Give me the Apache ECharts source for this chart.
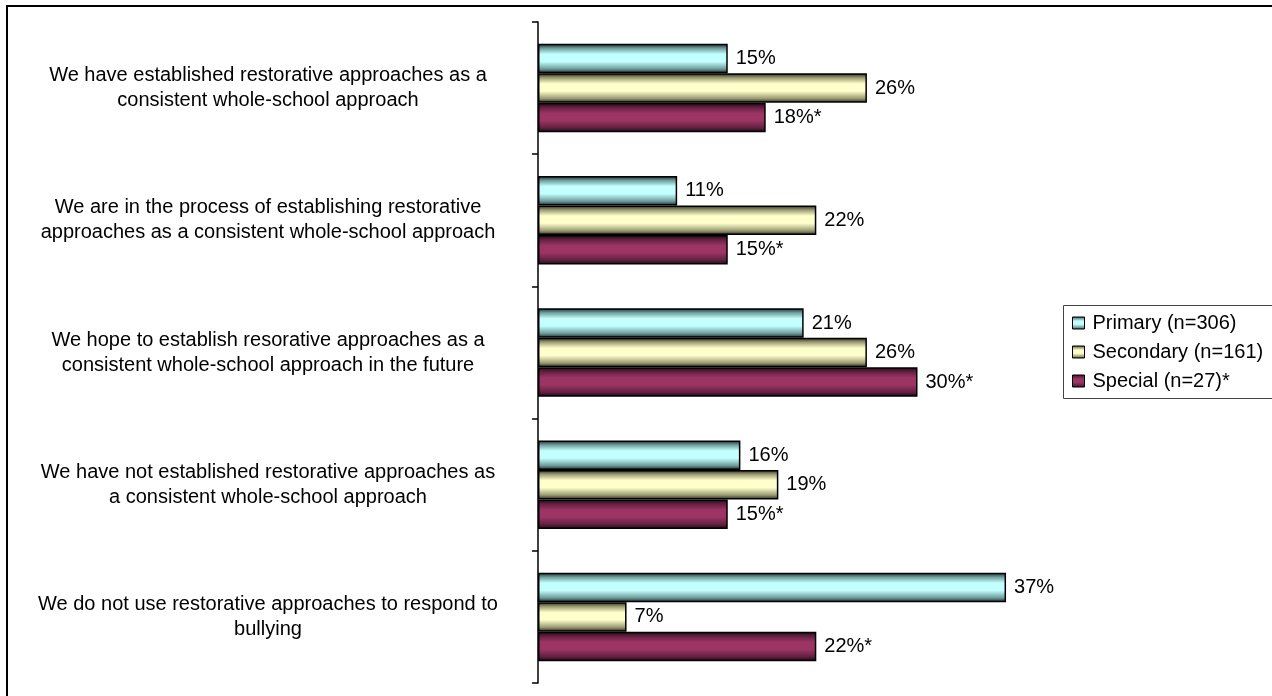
<!DOCTYPE html>
<html>
<head>
<meta charset="utf-8">
<script src="https://cdn.jsdelivr.net/npm/echarts@6/dist/echarts.min.js"></script>
<style>
  html, body { margin: 0; padding: 0; background: #fff; }
  #main { width: 1272px; height: 696px; }
</style>
</head>
<body>
<div id="main"></div>
<script>
// categories, top to bottom
const categories = [
  'We have established restorative approaches as a\nconsistent whole-school approach',
  'We are in the process of establishing restorative\napproaches as a consistent whole-school approach',
  'We hope to establish resorative approaches as a\nconsistent whole-school approach in the future',
  'We have not established restorative approaches as\na consistent whole-school approach',
  'We do not use restorative approaches to respond to\nbullying'
]
const seriesNames = ['Primary (n=306)', 'Secondary (n=161)', 'Special (n=27)*']
const primary = [15, 11, 21, 16, 37]
const secondary = [26, 22, 26, 19, 7]
const special = [18, 15, 30, 15, 22]

const FONT = '"Liberation Sans", Arial, sans-serif'

// cylinder-like shading across the bar thickness
function shade(dark, mid, light) {
  return new echarts.graphic.LinearGradient(0, 0, 0, 1, [
    { offset: 0, color: dark },
    { offset: 0.15, color: mid },
    { offset: 0.35, color: light },
    { offset: 0.6, color: light },
    { offset: 0.85, color: mid },
    { offset: 1, color: dark }
  ])
}

const styles = [
  shade('#182626', '#6e9c9c', '#c4ffff'),
  shade('#26261a', '#9c9c74', '#ffffcc'),
  shade('#180810', '#62203f', '#9c3464')
]

function makeSeries(name, data, idx, suffix) {
  return {
    name: name,
    type: 'bar',
    data: data,
    barWidth: 29.5,
    barGap: 0,
    itemStyle: { color: styles[idx], borderColor: '#000', borderWidth: 1.5 },
    label: {
      show: true,
      position: 'right',
      distance: 8,
      color: '#000',
      fontFamily: FONT,
      fontSize: 20,
      formatter: p => p.value + '%' + suffix
    }
  }
}

const chart = echarts.init(document.getElementById('main'))
chart.setOption({
  animation: false,
  backgroundColor: '#fff',
  grid: { left: 538, right: 228, top: 22, bottom: 13, containLabel: false },
  xAxis: {
    type: 'value',
    min: 0,
    max: 40,
    show: false
  },
  yAxis: {
    type: 'category',
    inverse: true,
    data: categories,
    axisLine: { show: true, lineStyle: { color: '#000', width: 1.5 } },
    axisTick: { show: true, length: 6, lineStyle: { color: '#000', width: 1.5 } },
    axisLabel: {
      align: 'center',
      margin: 270,
      color: '#000',
      fontFamily: FONT,
      fontSize: 20,
      lineHeight: 25
    },
    splitLine: { show: false }
  },
  legend: {
    orient: 'vertical',
    left: 1072,
    top: 313,
    padding: 0,
    icon: 'rect',
    itemWidth: 12,
    itemHeight: 12,
    itemGap: 9,
    data: seriesNames,
    itemStyle: { borderColor: '#000', borderWidth: 1 },
    textStyle: { color: '#000', fontFamily: FONT, fontSize: 20, lineHeight: 20, padding: [0, 0, 0, 3] }
  },
  graphic: [
    {
      type: 'rect',
      shape: { x: 7, y: 6, width: 1300, height: 720 },
      style: { fill: 'none', stroke: '#000', lineWidth: 2 },
      silent: true
    },
    {
      type: 'rect',
      shape: { x: 1063.5, y: 305.5, width: 260, height: 93 },
      style: { fill: 'none', stroke: '#444', lineWidth: 1 },
      silent: true
    }
  ],
  series: [
    makeSeries(seriesNames[0], primary, 0, ''),
    makeSeries(seriesNames[1], secondary, 1, ''),
    makeSeries(seriesNames[2], special, 2, '*')
  ]
})
</script>
</body>
</html>
